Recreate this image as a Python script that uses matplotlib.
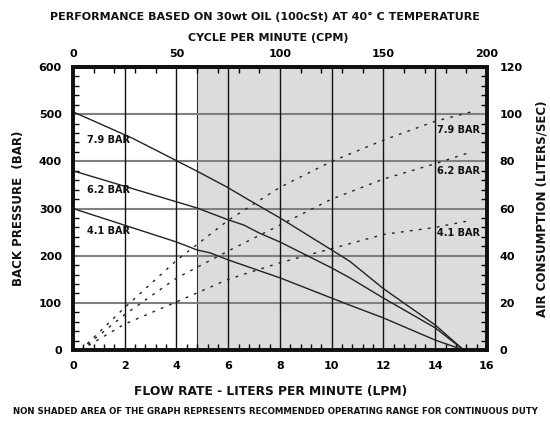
import matplotlib.pyplot as plt
import numpy as np
from matplotlib.ticker import MultipleLocator, FixedLocator

# ---- data ----
# back pressure (BAR) vs flow rate (LPM), solid lines
bp_x_79 = [0, 2.3, 4.8, 6.0, 6.8, 8.0, 10.0, 10.7, 12.0, 14.0, 15.1]
bp_y_79 = [505, 449, 379, 344, 318, 280, 212, 188, 130, 53, 0]
bp_x_62 = [0, 4.8, 6.0, 6.6, 7.2, 8.0, 10.0, 10.7, 12.0, 14.0, 15.1]
bp_y_62 = [380, 301, 276, 265, 248, 229, 174, 153, 110, 47, 0]
bp_x_41 = [0, 4.0, 4.8, 5.3, 6.0, 8.0, 10.0, 10.7, 12.0, 14.0, 15.1]
bp_y_41 = [300, 229, 212, 206, 191, 153, 110, 95, 68, 21, 0]

# air consumption (liters/sec) vs flow rate (LPM), dotted lines
air_x = [0.3, 2, 4, 6, 8, 10, 12, 14, 15.4]
air_79 = [0, 18, 38, 55, 69, 80, 89, 97, 101]
air_62 = [0, 15, 30.5, 42, 53, 64, 72.5, 79, 84]
air_41 = [0, 11, 20.4, 30, 37, 43, 49, 52, 55]

cpm_ticks = [0, 50, 100, 150, 200]
shade_from = 4.8  # 60 CPM
lpm_to_cpm = 12.5

fig = plt.figure(figsize=(5.5, 4.22), dpi=100)
ax = fig.add_axes([0.1327, 0.1706, 0.7527, 0.6706])

bold = dict(fontweight='bold', color='#111111')

ax.axvspan(shade_from, 16, facecolor='#dcdcdc', edgecolor='#333333', lw=0.8, zorder=0)
for v in range(100, 600, 100):
    ax.axhline(v, color='#808080', lw=1.5, zorder=1)
for v in range(2, 16, 2):
    ax.axvline(v, color='#111111', lw=1.0, zorder=1)

for xs, ys in [(bp_x_79, bp_y_79), (bp_x_62, bp_y_62), (bp_x_41, bp_y_41)]:
    ax.plot(xs, ys, color='#222222', lw=1.0, zorder=3)

ax.set_xlim(0, 16)
ax.set_ylim(0, 600)
ax.xaxis.set_major_locator(MultipleLocator(2))
ax.xaxis.set_minor_locator(MultipleLocator(0.4))
ax.yaxis.set_major_locator(MultipleLocator(100))
ax.yaxis.set_minor_locator(MultipleLocator(20))
ax.tick_params(which='both', direction='in', width=1.0)
ax.tick_params(which='major', length=0)
ax.tick_params(which='minor', length=4)
ax.tick_params(axis='x', which='both', pad=8)
ax.tick_params(axis='y', which='both', pad=8)
ax.tick_params(axis='x', labelsize=8)
ax.tick_params(axis='y', labelsize=8)
for lab in ax.get_xticklabels() + ax.get_yticklabels():
    lab.set_fontweight('bold')

for sp in ax.spines.values():
    sp.set_linewidth(2.6)
    sp.set_color('#111111')

# left labels
for txt, yv in [('7.9 BAR', 445), ('6.2 BAR', 339), ('4.1 BAR', 252)]:
    ax.text(0.55, yv, txt, fontsize=7, va='center', ha='left', **bold)

# right axis: air consumption
ax2 = ax.twinx()
ax2.set_ylim(0, 120)
for ys in [air_79, air_62, air_41]:
    ax2.plot(air_x, ys, color='#222222', lw=1.0, linestyle=(0, (2, 4.5)), zorder=3)
ax2.yaxis.set_major_locator(MultipleLocator(20))
ax2.yaxis.set_minor_locator(MultipleLocator(4))
ax2.tick_params(which='both', direction='in', width=1.0)
ax2.tick_params(which='major', length=0, pad=9, labelsize=8)
ax2.tick_params(which='minor', length=4)
for lab in ax2.get_yticklabels():
    lab.set_fontweight('bold')
for sp in ax2.spines.values():
    sp.set_linewidth(2.6)
    sp.set_color('#111111')
for txt, yv in [('7.9 BAR', 93.5), ('6.2 BAR', 76), ('4.1 BAR', 49.5)]:
    ax2.text(14.05, yv, txt, fontsize=7, va='center', ha='left', **bold)

# top axis: cycles per minute
top = ax.secondary_xaxis('top', functions=(lambda x: x * lpm_to_cpm, lambda c: c / lpm_to_cpm))
top.xaxis.set_major_locator(FixedLocator(cpm_ticks))
top.xaxis.set_minor_locator(FixedLocator(np.arange(0, 201, 10)))
top.tick_params(which='both', direction='in', width=1.0)
top.tick_params(which='major', length=0, pad=6, labelsize=8)
top.tick_params(which='minor', length=4)
for lab in top.get_xticklabels():
    lab.set_fontweight('bold')
top.spines['top'].set_linewidth(2.6)

ax.set_ylabel('BACK PRESSURE  (BAR)', fontsize=8.5, labelpad=10, **bold)
ax2.set_ylabel('AIR CONSUMPTION (LITERS/SEC)', fontsize=8.5, labelpad=9, **bold)
ax.set_xlabel('FLOW RATE - LITERS PER MINUTE (LPM)', fontsize=8.8, labelpad=8, **bold)
ax.xaxis.set_label_coords(0.478, -0.125)

fig.text(0.482, 0.96, 'PERFORMANCE BASED ON 30wt OIL (100cSt) AT 40° C TEMPERATURE',
         ha='center', va='center', fontsize=8, **bold)
fig.text(0.487, 0.91, 'CYCLE PER MINUTE (CPM)', ha='center', va='center', fontsize=8, **bold)
fig.text(0.5, 0.024, 'NON SHADED AREA OF THE GRAPH REPRESENTS RECOMMENDED OPERATING RANGE FOR CONTINUOUS DUTY',
         ha='center', va='center', fontsize=6.2, family=['Liberation Sans Narrow', 'DejaVu Sans'], **bold)

fig.savefig('out.png', dpi=100)
